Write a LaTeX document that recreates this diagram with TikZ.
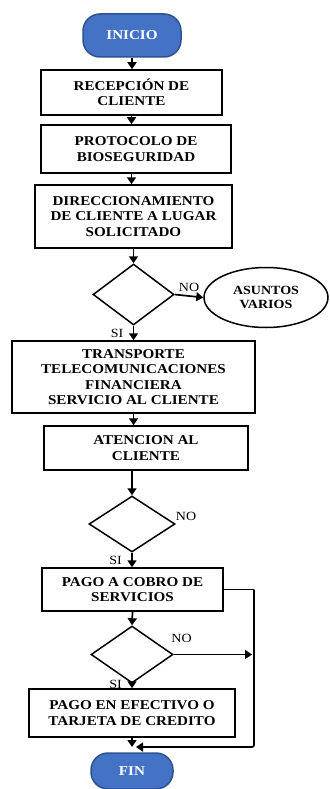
\documentclass[tikz,border=0pt]{standalone}
\usepackage{fontspec}
\setmainfont{Liberation Serif}[FakeStretch=1.12]
\usetikzlibrary{shapes.geometric,arrows.meta}
\definecolor{azul}{RGB}{68,114,196}
\definecolor{azulborde}{RGB}{47,82,143}
\tikzset{
    caja/.style={draw,line width=1.5pt,align=center,inner sep=2pt,
        font=\bfseries\fontsize{13.5}{15.5}\selectfont},
    terminal/.style={draw=azulborde,fill=azul,line width=1.5pt,rounded corners=17pt,
        text=white,font=\bfseries\fontsize{13.5}{15}\selectfont},
    decision/.style={draw,diamond,line width=1.5pt,inner sep=0pt},
    flecha/.style={-{Triangle[length=7pt,width=9pt]},line width=1.7pt},
    rotulo/.style={font=\fontsize{12.5}{14}\selectfont}
}
\begin{document}
\begin{tikzpicture}[x=1pt,y=-1pt]
        \useasboundingbox (0,0) rectangle (329,789);

        \node [terminal,minimum width=98pt,minimum height=43pt] (inicio) at (132,35.5) {INICIO};
        \node [caja,minimum width=181pt,minimum height=45pt] (recepcion) at (131.5,92.5) {RECEPCIÓN DE\\CLIENTE};
        \node [caja,minimum width=190pt,minimum height=48pt] (protocolo) at (136,149) {PROTOCOLO DE\\BIOSEGURIDAD};
        \node [caja,minimum width=197pt,minimum height=63pt] (direccion) at (133.5,216.5) {DIRECCIONAMIENTO\\DE CLIENTE A LUGAR\\SOLICITADO};
        \node [decision,minimum width=81pt,minimum height=61pt] (dec1) at (133.5,294.5) {};
        \node [draw,ellipse,line width=1.5pt,minimum width=124pt,minimum height=60pt,align=center,
               font=\bfseries\fontsize{12.5}{14.5}\selectfont] (asuntos) at (266,297.5) {ASUNTOS\\VARIOS};
        \node [caja,minimum width=243pt,minimum height=72pt] (transporte) at (133.5,377) {TRANSPORTE\\TELECOMUNICACIONES\\FINANCIERA\\SERVICIO AL CLIENTE};
        \node [caja,minimum width=204pt,minimum height=44pt] (atencion) at (146,448) {ATENCION AL\\CLIENTE};
        \node [decision,minimum width=86pt,minimum height=56pt] (dec2) at (132,524) {};
        \node [caja,minimum width=181pt,minimum height=43pt] (pago) at (132.5,589.5) {PAGO A COBRO DE\\SERVICIOS};
        \node [decision,minimum width=82pt,minimum height=57pt] (dec3) at (132,654.5) {};
        \node [caja,minimum width=206pt,minimum height=48pt] (efectivo) at (132,713) {PAGO EN EFECTIVO O\\TARJETA DE CREDITO};
        \node [terminal,minimum width=82pt,minimum height=36pt] (fin) at (132,771) {FIN};

        \coordinate (esquina) at (254,589.5);
        \coordinate (lateral) at (252,654.5);
        \coordinate (union) at (132,747);

        \draw [flecha] (inicio.south) -- (inicio.south |- recepcion.north);
        \draw [flecha] (recepcion.south) -- (recepcion.south |- protocolo.north);
        \draw [flecha] (recepcion.south |- protocolo.south) -- (recepcion.south |- direccion.north);
        \draw [flecha] (dec1.north |- direccion.south) -- (dec1.north);
        \draw [flecha] (dec1.east) -- (asuntos.west) node [rotulo,midway,above] {NO};
        \draw [flecha] (dec1.south) -- (dec1.south |- transporte.north) node [rotulo,midway,left=6pt] {SI};
        \draw [flecha] (dec1.south |- transporte.south) -- (dec1.south |- atencion.north);
        \draw [flecha] (dec2.north |- atencion.south) -- (dec2.north);
        \node [rotulo] (no2) at (186,516) {NO};
        \draw [flecha] (dec2.south) -- (dec2.south |- pago.north) node [rotulo,midway,left=6pt] {SI};
        \draw [flecha] (pago.south) -- (dec3.north);
        \draw [flecha] (dec3.south) -- (efectivo.north) node [rotulo,pos=0.2,left=6pt] {SI};
        \draw [flecha] (dec3.east) -- (lateral) node [rotulo,pos=0.1,above=8pt] {NO};
        \draw [line width=1.7pt] (pago.east) -- (esquina);
        \draw [flecha,rounded corners=2pt] (esquina) -- (esquina |- union) -- ([xshift=4pt]union);
        \draw [flecha] (efectivo.south) -- (union);
\end{tikzpicture}
\end{document}
